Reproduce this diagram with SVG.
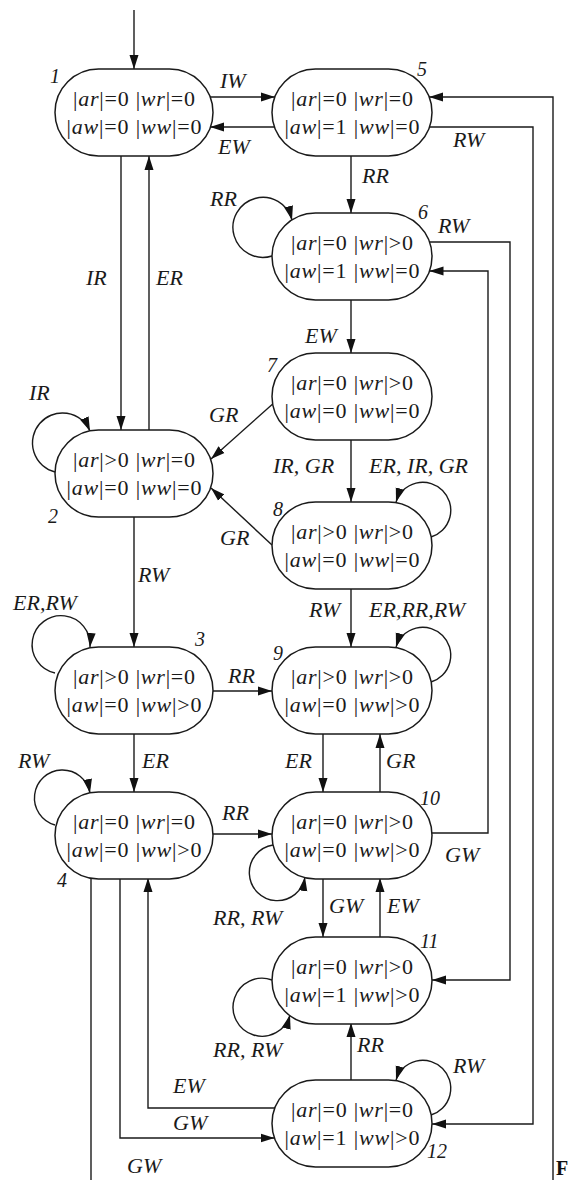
<svg xmlns="http://www.w3.org/2000/svg" width="575" height="1180" viewBox="0 0 575 1180">
<style>
.n rect{fill:#fff;stroke:#1a1a1a;stroke-width:1.5}
.t{font-family:"Liberation Serif","Times New Roman",serif;font-size:22px;fill:#1a1a1a;text-anchor:middle}
.i{font-style:italic}
.num{font-family:"Liberation Serif","Times New Roman",serif;font-size:20px;font-style:italic;fill:#1a1a1a}
.lb{font-family:"Liberation Serif","Times New Roman",serif;font-size:22px;font-style:italic;fill:#1a1a1a}
#edges path{fill:none;stroke:#1a1a1a;stroke-width:1.4}
.ar{marker-end:url(#ah)}
</style>
<defs>
<marker id="ah" markerWidth="14" markerHeight="10" refX="14" refY="5" orient="auto" markerUnits="userSpaceOnUse"><path d="M0,0.5 L14,5 L0,9.5 z" fill="#111"/></marker>
</defs>
<rect width="575" height="1180" fill="#fff"/>
<g id="edges">
<path class="ar" d="M134,10 V69"/>
<path class="ar" d="M210,97 H275"/>
<path class="ar" d="M275,127 H210"/>
<path class="ar" d="M351,156 V213"/>
<path class="ar" d="M429,127 H533 V1124 H432"/>
<path class="ar" d="M553,1180 V97 H429"/>
<path class="ar" d="M272,256 A30,30 0 1 1 292,220"/>
<path class="ar" d="M429.5,242 H510 V980 H432"/>
<path class="ar" d="M432,833 H488 V271 H429.5"/>
<path class="ar" d="M351,300 V353"/>
<path class="ar" d="M121,156 V430"/>
<path class="ar" d="M149,430 V156"/>
<path class="ar" d="M55,472 A30,30 0 1 1 90,431"/>
<path class="ar" d="M272.7,404 L211,459"/>
<path class="ar" d="M351,440 V502"/>
<path class="ar" d="M431,537 A28,28 0 1 0 396,502"/>
<path class="ar" d="M272,545 L211,488"/>
<path class="ar" d="M134,517 V647"/>
<path class="ar" d="M55,673 A29,29 0 1 1 90,647"/>
<path class="ar" d="M351,588 V647"/>
<path class="ar" d="M431,682 A28,28 0 1 0 396,647"/>
<path class="ar" d="M213,691 H272"/>
<path class="ar" d="M134,733 V792"/>
<path class="ar" d="M55,825 A28,28 0 1 1 90,793"/>
<path class="ar" d="M213,834 H272"/>
<path class="ar" d="M323,734 V792"/>
<path class="ar" d="M380,792 V734"/>
<path class="ar" d="M273,845 A28,28 0 1 0 305,877"/>
<path class="ar" d="M323,878 V937"/>
<path class="ar" d="M380,937 V878"/>
<path class="ar" d="M272,980 A29,29 0 1 0 290,1015"/>
<path class="ar" d="M351,1080 V1023"/>
<path class="ar" d="M431,1115 A28,28 0 1 0 396,1080"/>
<path class="ar" d="M275,1108 H148 V878"/>
<path class="ar" d="M120,878 V1138 H274.5"/>
<path d="M91,878 V1180"/>
</g>
<g id="labels">
<text class="lb" x="220" y="88">IW</text>
<text class="lb" x="218" y="154">EW</text>
<text class="lb" x="453" y="147">RW</text>
<text class="lb" x="362" y="183">RR</text>
<text class="lb" x="210" y="206">RR</text>
<text class="lb" x="438" y="233">RW</text>
<text class="lb" x="86" y="285">IR</text>
<text class="lb" x="156" y="285">ER</text>
<text class="lb" x="305" y="343">EW</text>
<text class="lb" x="29" y="400">IR</text>
<text class="lb" x="209" y="422">GR</text>
<text class="lb" x="273" y="473">IR, GR</text>
<text class="lb" x="369" y="473">ER, IR, GR</text>
<text class="lb" x="220" y="545">GR</text>
<text class="lb" x="138" y="582">RW</text>
<text class="lb" x="13" y="610">ER,RW</text>
<text class="lb" x="309" y="617">RW</text>
<text class="lb" x="369" y="617">ER,RR,RW</text>
<text class="lb" x="228" y="683">RR</text>
<text class="lb" x="142" y="768">ER</text>
<text class="lb" x="18" y="768">RW</text>
<text class="lb" x="285" y="768">ER</text>
<text class="lb" x="386" y="768">GR</text>
<text class="lb" x="222" y="820">RR</text>
<text class="lb" x="445" y="862">GW</text>
<text class="lb" x="329" y="913">GW</text>
<text class="lb" x="387" y="913">EW</text>
<text class="lb" x="213" y="925">RR, RW</text>
<text class="lb" x="213" y="1057">RR, RW</text>
<text class="lb" x="357" y="1052">RR</text>
<text class="lb" x="453" y="1073">RW</text>
<text class="lb" x="173" y="1093">EW</text>
<text class="lb" x="173" y="1130">GW</text>
<text class="lb" x="127" y="1173">GW</text>
<text x="556" y="1175" font-family="'Liberation Serif',serif" font-size="20" font-weight="bold" fill="#111">F</text>
</g>
<g id="node1" class="n"><rect x="55" y="69" width="158" height="87" rx="43.5"/>
<text class="t" x="134" y="106" textLength="122">|<tspan class="i">ar</tspan>|=0 |<tspan class="i">wr</tspan>|=0</text>
<text class="t" x="134" y="134" textLength="135">|<tspan class="i">aw</tspan>|=0 |<tspan class="i">ww</tspan>|=0</text>
<text class="num" x="50" y="83">1</text></g>
<g id="node5" class="n"><rect x="272" y="69" width="160" height="87" rx="43.5"/>
<text class="t" x="352" y="106" textLength="122">|<tspan class="i">ar</tspan>|=0 |<tspan class="i">wr</tspan>|=0</text>
<text class="t" x="352" y="134" textLength="135">|<tspan class="i">aw</tspan>|=1 |<tspan class="i">ww</tspan>|=0</text>
<text class="num" x="417" y="76">5</text></g>
<g id="node6" class="n"><rect x="272" y="213" width="160" height="87" rx="43.5"/>
<text class="t" x="352" y="250" textLength="122">|<tspan class="i">ar</tspan>|=0 |<tspan class="i">wr</tspan>|&gt;0</text>
<text class="t" x="352" y="278" textLength="135">|<tspan class="i">aw</tspan>|=1 |<tspan class="i">ww</tspan>|=0</text>
<text class="num" x="418" y="219">6</text></g>
<g id="node7" class="n"><rect x="272" y="353" width="160" height="87" rx="43.5"/>
<text class="t" x="352" y="390" textLength="122">|<tspan class="i">ar</tspan>|=0 |<tspan class="i">wr</tspan>|&gt;0</text>
<text class="t" x="352" y="418" textLength="135">|<tspan class="i">aw</tspan>|=0 |<tspan class="i">ww</tspan>|=0</text>
<text class="num" x="267" y="372">7</text></g>
<g id="node2" class="n"><rect x="55" y="430" width="158" height="87" rx="43.5"/>
<text class="t" x="134" y="467" textLength="122">|<tspan class="i">ar</tspan>|&gt;0 |<tspan class="i">wr</tspan>|=0</text>
<text class="t" x="134" y="495" textLength="135">|<tspan class="i">aw</tspan>|=0 |<tspan class="i">ww</tspan>|=0</text>
<text class="num" x="48" y="523">2</text></g>
<g id="node8" class="n"><rect x="272" y="502" width="160" height="87" rx="43.5"/>
<text class="t" x="352" y="539" textLength="122">|<tspan class="i">ar</tspan>|&gt;0 |<tspan class="i">wr</tspan>|&gt;0</text>
<text class="t" x="352" y="567" textLength="135">|<tspan class="i">aw</tspan>|=0 |<tspan class="i">ww</tspan>|=0</text>
<text class="num" x="273" y="516">8</text></g>
<g id="node3" class="n"><rect x="55" y="647" width="158" height="87" rx="43.5"/>
<text class="t" x="134" y="684" textLength="122">|<tspan class="i">ar</tspan>|&gt;0 |<tspan class="i">wr</tspan>|=0</text>
<text class="t" x="134" y="712" textLength="135">|<tspan class="i">aw</tspan>|=0 |<tspan class="i">ww</tspan>|&gt;0</text>
<text class="num" x="195" y="646">3</text></g>
<g id="node9" class="n"><rect x="272" y="647" width="160" height="87" rx="43.5"/>
<text class="t" x="352" y="684" textLength="122">|<tspan class="i">ar</tspan>|&gt;0 |<tspan class="i">wr</tspan>|&gt;0</text>
<text class="t" x="352" y="712" textLength="135">|<tspan class="i">aw</tspan>|=0 |<tspan class="i">ww</tspan>|&gt;0</text>
<text class="num" x="273" y="660">9</text></g>
<g id="node4" class="n"><rect x="55" y="792" width="158" height="87" rx="43.5"/>
<text class="t" x="134" y="829" textLength="122">|<tspan class="i">ar</tspan>|=0 |<tspan class="i">wr</tspan>|=0</text>
<text class="t" x="134" y="857" textLength="135">|<tspan class="i">aw</tspan>|=0 |<tspan class="i">ww</tspan>|&gt;0</text>
<text class="num" x="57" y="887">4</text></g>
<g id="node10" class="n"><rect x="272" y="792" width="160" height="87" rx="43.5"/>
<text class="t" x="352" y="829" textLength="122">|<tspan class="i">ar</tspan>|=0 |<tspan class="i">wr</tspan>|&gt;0</text>
<text class="t" x="352" y="857" textLength="135">|<tspan class="i">aw</tspan>|=0 |<tspan class="i">ww</tspan>|&gt;0</text>
<text class="num" x="420" y="805">10</text></g>
<g id="node11" class="n"><rect x="272" y="937" width="160" height="87" rx="43.5"/>
<text class="t" x="352" y="974" textLength="122">|<tspan class="i">ar</tspan>|=0 |<tspan class="i">wr</tspan>|&gt;0</text>
<text class="t" x="352" y="1002" textLength="135">|<tspan class="i">aw</tspan>|=1 |<tspan class="i">ww</tspan>|&gt;0</text>
<text class="num" x="420" y="948">11</text></g>
<g id="node12" class="n"><rect x="272" y="1080" width="160" height="87" rx="43.5"/>
<text class="t" x="352" y="1117" textLength="122">|<tspan class="i">ar</tspan>|=0 |<tspan class="i">wr</tspan>|=0</text>
<text class="t" x="352" y="1145" textLength="135">|<tspan class="i">aw</tspan>|=1 |<tspan class="i">ww</tspan>|&gt;0</text>
<text class="num" x="427" y="1158">12</text></g>
</svg>
